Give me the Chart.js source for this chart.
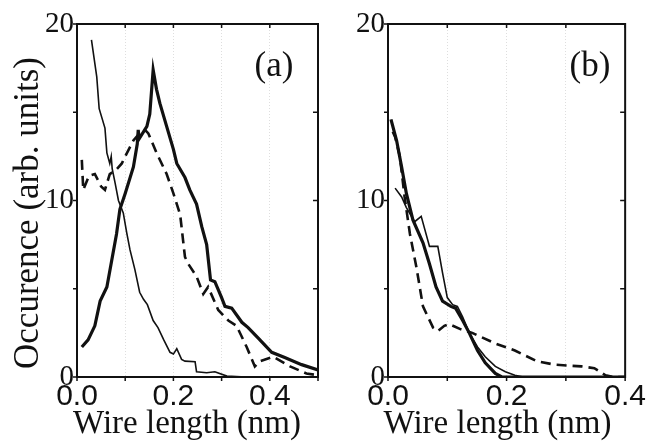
<!DOCTYPE html>
<html>
<head>
<meta charset="utf-8">
<script src="https://cdn.jsdelivr.net/npm/chart.js@4.4.1/dist/chart.umd.min.js"></script>
<style>
  html, body { margin: 0; padding: 0; background: #fff; }
  #wrapA { position: absolute; left: 0; top: 0; width: 330px; height: 444px; }
  #wrapB { position: absolute; left: 330px; top: 0; width: 318px; height: 444px; }
</style>
</head>
<body>
<div id="wrapA"><canvas id="chartA"></canvas></div>
<div id="wrapB"><canvas id="chartB"></canvas></div>
<script>
// panel (a)
const aThinX = [0.030, 0.041, 0.046, 0.058, 0.062, 0.068, 0.071, 0.073, 0.079, 0.086, 0.096, 0.103, 0.110, 0.120, 0.130, 0.138, 0.146, 0.158, 0.168, 0.180, 0.193, 0.200, 0.207, 0.217, 0.224, 0.245, 0.248, 0.269, 0.286, 0.311, 0.350, 0.500];
const aThinY = [19.1, 17.0, 15.2, 14.1, 12.7, 12.1, 12.5, 11.8, 11.0, 10.0, 9.3, 8.2, 7.2, 6.1, 4.8, 4.4, 4.1, 3.2, 2.8, 2.1, 1.4, 1.3, 1.6, 1.0, 0.9, 0.87, 0.3, 0.24, 0.3, 0.05, 0, 0];
const aThickX = [0.010, 0.023, 0.037, 0.048, 0.062, 0.072, 0.082, 0.089, 0.100, 0.117, 0.125, 0.127, 0.129, 0.145, 0.151, 0.158, 0.165, 0.172, 0.186, 0.200, 0.207, 0.224, 0.234, 0.248, 0.259, 0.269, 0.277, 0.286, 0.300, 0.307, 0.321, 0.342, 0.355, 0.376, 0.404, 0.431, 0.466, 0.500];
const aThickY = [1.7, 2.1, 2.9, 4.3, 5.1, 6.6, 8.1, 9.5, 10.4, 11.9, 13.2, 14.0, 13.5, 14.2, 14.9, 17.4, 16.3, 15.5, 14.2, 12.9, 12.1, 11.3, 10.6, 9.8, 8.5, 7.5, 5.5, 5.4, 4.5, 4.0, 3.9, 3.1, 2.8, 2.2, 1.4, 1.1, 0.7, 0.4];
const aDashX = [0.010, 0.013, 0.025, 0.037, 0.050, 0.058, 0.068, 0.080, 0.093, 0.100, 0.117, 0.133, 0.141, 0.148, 0.165, 0.186, 0.200, 0.214, 0.224, 0.231, 0.248, 0.262, 0.272, 0.293, 0.314, 0.331, 0.352, 0.369, 0.380, 0.407, 0.442, 0.476, 0.500];
const aDashY = [12.3, 10.6, 11.4, 11.5, 10.8, 10.6, 11.5, 11.7, 12.1, 12.5, 13.4, 13.9, 14.0, 13.8, 12.7, 11.5, 10.4, 9.2, 6.8, 6.4, 5.7, 4.7, 5.1, 3.8, 3.2, 2.9, 1.7, 0.6, 0.9, 1.15, 0.6, 0.2, 0.1];

// panel (b)
const bThickX = [0.005, 0.0145, 0.023, 0.031, 0.042, 0.059, 0.070, 0.081, 0.092, 0.106, 0.114, 0.126, 0.137, 0.151, 0.164, 0.181, 0.192, 0.400];
const bThickY = [14.6, 13.4, 11.9, 10.4, 8.9, 7.6, 6.4, 5.1, 4.3, 4.0, 3.9, 3.2, 2.5, 1.5, 0.8, 0.2, 0, 0];
const bThinX = [0.012, 0.023, 0.031, 0.045, 0.056, 0.070, 0.084, 0.092, 0.100, 0.109, 0.117, 0.126, 0.137, 0.151, 0.164, 0.181, 0.198, 0.214, 0.228, 0.400];
const bThinY = [10.7, 10.2, 9.6, 8.8, 9.1, 7.4, 7.4, 5.9, 4.5, 4.1, 4.0, 3.4, 2.5, 1.7, 1.15, 0.6, 0.3, 0.1, 0, 0];
const bDashX = [0.008, 0.012, 0.020, 0.028, 0.037, 0.048, 0.059, 0.076, 0.084, 0.095, 0.103, 0.123, 0.142, 0.181, 0.214, 0.251, 0.281, 0.326, 0.348, 0.367, 0.380, 0.400];
const bDashY = [13.9, 13.6, 12.5, 10.2, 8.1, 6.2, 4.0, 2.8, 2.6, 2.9, 3.0, 2.7, 2.5, 1.9, 1.5, 0.9, 0.7, 0.6, 0.5, 0.1, 0, 0];

const yTickLabels = [0, 10, 20];
const xTickLabels = [0.0, 0.2, 0.4];

const INK = '#111';
const SERIF = '"Liberation Serif", "Times New Roman", Times, serif';
const SANS = '"Liberation Sans", Arial, Helvetica, sans-serif';
const pts = (xs, ys) => xs.map((x, i) => ({ x: x, y: ys[i] }));

const line = (label, xs, ys, width, dash) => ({
  label: label,
  data: pts(xs, ys),
  borderColor: INK,
  borderWidth: width,
  borderDash: dash || [],
  pointRadius: 0,
  tension: 0,
  fill: false
});

// frame, tick marks, axis titles and panel tag
const framePlugin = {
  id: 'frame',
  afterDraw(chart, args, opts) {
    const { ctx, chartArea: a, scales } = chart;
    ctx.save();
    ctx.strokeStyle = INK;
    ctx.lineWidth = 1.5;
    scales.x.ticks.forEach(t => {
      const px = scales.x.getPixelForValue(t.value);
      ctx.beginPath();
      ctx.moveTo(px, a.bottom); ctx.lineTo(px, a.bottom + 4);
      ctx.moveTo(px, a.top); ctx.lineTo(px, a.top + 4);
      ctx.stroke();
    });
    scales.y.ticks.forEach(t => {
      const py = scales.y.getPixelForValue(t.value);
      ctx.beginPath();
      ctx.moveTo(a.left, py); ctx.lineTo(a.left - 4, py);
      ctx.moveTo(a.right, py); ctx.lineTo(a.right - 5, py);
      ctx.stroke();
    });
    ctx.lineWidth = 2;
    ctx.strokeRect(a.left, a.top, a.right - a.left, a.bottom - a.top);

    ctx.fillStyle = INK;
    ctx.textAlign = 'center';
    ctx.textBaseline = 'alphabetic';
    ctx.font = '35px ' + SERIF;
    ctx.fillText(opts.tag, opts.tagX, 76);
    ctx.font = '33px ' + SERIF;
    ctx.fillText('Wire length (nm)', opts.titleX, 433);
    if (opts.yTitle) {
      ctx.translate(37.5, 213);
      ctx.rotate(-Math.PI / 2);
      ctx.font = '35px ' + SERIF;
      ctx.fillText(opts.yTitle, 0, 0);
    }
    ctx.restore();
  }
};

const makeOptions = (xMax, yWidth, rightPad, frameOpts) => ({
  responsive: true,
  maintainAspectRatio: false,
  animation: false,
  layout: { padding: { top: 24, right: rightPad, left: 0, bottom: 0 } },
  plugins: {
    legend: { display: false },
    tooltip: { enabled: false },
    frame: frameOpts
  },
  scales: {
    x: {
      type: 'linear',
      min: 0,
      max: xMax,
      afterFit: (scale) => { scale.height = 67; },
      grid: { color: '#dedede', lineWidth: 1, drawTicks: false, borderDash: [1, 2] },
      border: { display: false, dash: [1, 2] },
      ticks: {
        stepSize: 0.1,
        padding: 2,
        maxRotation: 0,
        color: INK,
        font: { family: SANS, size: 30 },
        callback: (v) => {
          const hit = xTickLabels.find(l => Math.abs(l - v) < 1e-6);
          return hit === undefined ? '' : hit.toFixed(1);
        }
      }
    },
    y: {
      min: 0,
      max: 20,
      afterFit: (scale) => { scale.width = yWidth; },
      grid: { display: false, drawTicks: false },
      border: { display: false },
      ticks: {
        stepSize: 5,
        padding: 3,
        color: INK,
        font: { family: SERIF, size: 29 },
        callback: (v) => yTickLabels.includes(v) ? String(v) : ''
      }
    }
  }
});

new Chart(document.getElementById('chartA'), {
  type: 'line',
  data: {
    datasets: [
      line('thin', aThinX, aThinY, 1.6),
      line('thick', aThickX, aThickY, 3.2),
      line('dashed', aDashX, aDashY, 2.6, [10, 6])
    ]
  },
  options: makeOptions(0.5, 77, 12, { tag: '(a)', tagX: 274, titleX: 187, yTitle: 'Occurence (arb. units)' }),
  plugins: [framePlugin]
});

new Chart(document.getElementById('chartB'), {
  type: 'line',
  data: {
    datasets: [
      line('thin', bThinX, bThinY, 1.6),
      line('thick', bThickX, bThickY, 3.2),
      line('dashed', bDashX, bDashY, 2.6, [10, 6])
    ]
  },
  options: makeOptions(0.4, 58, 20, { tag: '(b)', tagX: 260, titleX: 167.5, yTitle: null }),
  plugins: [framePlugin]
});
</script>
</body>
</html>
